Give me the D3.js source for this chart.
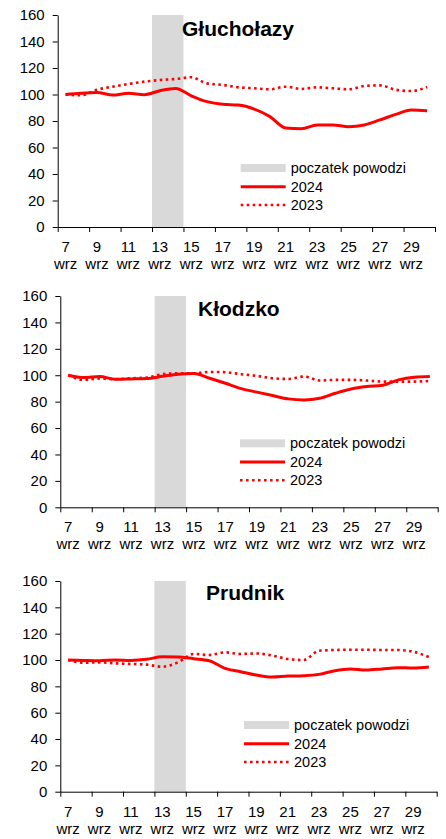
<!DOCTYPE html>
<html>
<head>
<meta charset="utf-8">
<script src="https://cdn.jsdelivr.net/npm/d3@7"></script>
<style>
  body { margin: 0; background: #fff; }
  svg { display: block; font-family: "Liberation Sans", Arial, sans-serif; }
</style>
</head>
<body>
<div id="wrapper"></div>
<script>
// days of September (wrz)
const days = [7, 8, 9, 10, 11, 12, 13, 14, 15, 16, 17, 18, 19, 20, 21, 22, 23, 24, 25, 26, 27, 28, 29, 30]
const monthLabel = "wrz"
const yTicks = [0, 20, 40, 60, 80, 100, 120, 140, 160]

// flood start band
const floodDays = [13, 14]
const floodLevel = 160

// Głuchołazy
const gl2024 = [100, 101, 101.5, 99.6, 100.9, 99.9, 102.9, 104.6, 99, 94.6, 92.6, 92, 89, 83.3, 74.7, 74.2, 77, 77, 75.7, 77, 80.8, 85, 88.3, 87.8]
const gl2023 = [100, 99.4, 103.6, 105.9, 107.9, 109.7, 110.9, 111.7, 113, 108.4, 107.2, 105.4, 104.7, 103.9, 105.9, 104.2, 105.4, 104.7, 103.9, 106.4, 106.9, 103.6, 102.6, 105.7]

// Kłodzko
const kl2024 = [100, 98.2, 99, 97, 97.2, 97.5, 99.2, 100.8, 101.3, 97.7, 93.9, 89.9, 87.2, 84.6, 82.1, 81.3, 82.6, 86.4, 89.6, 91.4, 92.4, 96.5, 98.5, 99]
const kl2023 = [100, 96.5, 97.5, 97, 97.7, 98.2, 100.8, 101.5, 101.5, 102.5, 102.3, 100.8, 99.5, 97.7, 97.2, 99, 96, 96.5, 96.5, 96, 95.2, 95.2, 95.2, 95.7]

// Prudnik
const pr2024 = [100, 99.7, 99.5, 100, 99.7, 100.5, 102.5, 102.3, 101, 99.5, 93.7, 91.1, 88.6, 87.1, 87.8, 88.1, 89.1, 91.9, 93.2, 92.4, 93.2, 94.2, 93.9, 94.7]
const pr2023 = [100, 98, 98.2, 97.5, 97, 96.5, 94.9, 98.2, 104.6, 103.8, 105.8, 104.6, 105, 103.4, 100.8, 100, 107, 107.6, 107.8, 107.8, 107.6, 107.6, 106.3, 102.3]

const legendLabels = ["poczatek powodzi", "2024", "2023"]

const dimensions = { width: 446, height: 839 }

const panels = [
  { name: "Głuchołazy", s2024: gl2024, s2023: gl2023,
    left: 57.7, right: 435, top: 15, bottom: 227, titleX: 182, titleY: 36, legX: 240.7, legY: 168 },
  { name: "Kłodzko", s2024: kl2024, s2023: kl2023,
    left: 60.3, right: 437.7, top: 296, bottom: 507.3, titleX: 198, titleY: 316, legX: 240, legY: 443.3 },
  { name: "Prudnik", s2024: pr2024, s2023: pr2023,
    left: 60.3, right: 436.7, top: 581, bottom: 791.7, titleX: 206, titleY: 600, legX: 244, legY: 725 },
]

const svg = d3.select("#wrapper")
  .append("svg")
    .attr("width", dimensions.width)
    .attr("height", dimensions.height)

const drawPanel = p => {
  const g = svg.append("g")

  const xScale = d3.scaleBand()
      .domain(days)
      .range([p.left, p.right])
      .padding(0)

  // linear index scale for the tick marks between categories
  const xIndex = d3.scaleLinear()
      .domain([0, days.length])
      .range([p.left, p.right])

  const yScale = d3.scaleLinear()
      .domain([0, 160])
      .range([p.bottom, p.top])

  const xCenter = d => xScale(d) + xScale.bandwidth() / 2

  // flood band (one rect over the flood days, no seam)
  const [fStart, fEnd] = d3.extent(floodDays)
  g.append("rect")
      .attr("x", xScale(fStart))
      .attr("width", xScale(fEnd) + xScale.bandwidth() - xScale(fStart))
      .attr("y", yScale(floodLevel))
      .attr("height", yScale(0) - yScale(floodLevel))
      .attr("fill", "#d9d9d9")

  // lines
  const lineGen = series => d3.line()
      .x((d, i) => xCenter(days[i]))
      .y(d => yScale(d))
      .curve(d3.curveMonotoneX)(series)

  g.append("path")
      .attr("d", lineGen(p.s2023))
      .attr("fill", "none")
      .attr("stroke", "#ff0000")
      .attr("stroke-width", 2.6)
      .attr("stroke-dasharray", "2.6 3.4")

  g.append("path")
      .attr("d", lineGen(p.s2024))
      .attr("fill", "none")
      .attr("stroke", "#ff0000")
      .attr("stroke-width", 3)
      .attr("stroke-linejoin", "round")

  // y axis
  const yAxis = g.append("g")
      .attr("transform", `translate(${p.left},0)`)
      .call(d3.axisLeft(yScale).tickValues(yTicks).tickSize(5).tickPadding(8).tickSizeOuter(0))
  yAxis.selectAll("text")
      .attr("font-size", 15)
      .attr("font-family", "Liberation Sans, Arial, sans-serif")
      .attr("fill", "#000")
  yAxis.selectAll("line, path").attr("stroke", "#000")

  // x axis ticks every second category boundary
  const tickIdx = d3.range(0, days.length + 1, 2)
  const xAxis = g.append("g")
      .attr("transform", `translate(0,${p.bottom})`)
      .call(d3.axisBottom(xIndex).tickValues(tickIdx).tickSize(5).tickSizeOuter(0).tickFormat(""))
  xAxis.selectAll("line, path").attr("stroke", "#000")

  // x labels, two lines
  const labelDays = days.filter((d, i) => i % 2 === 0)
  const labels = g.selectAll(".xlab")
    .data(labelDays)
    .enter()
      .append("text")
      .attr("class", "xlab")
      .attr("text-anchor", "middle")
      .attr("font-size", 15)
      .attr("fill", "#000")
  labels.append("tspan")
      .attr("x", d => xCenter(d))
      .attr("y", p.bottom + 25)
      .text(d => d)
  labels.append("tspan")
      .attr("x", d => xCenter(d))
      .attr("y", p.bottom + 42)
      .text(monthLabel)

  // title
  g.append("text")
      .attr("x", p.titleX)
      .attr("y", p.titleY)
      .attr("font-size", 21)
      .attr("font-weight", "bold")
      .attr("fill", "#000")
      .text(p.name)

  // legend
  const leg = g.append("g")
      .attr("transform", `translate(${p.legX},${p.legY})`)
  leg.append("rect")
      .attr("x", 0).attr("y", -4)
      .attr("width", 45).attr("height", 8)
      .attr("fill", "#d9d9d9")
  leg.append("line")
      .attr("x1", 0).attr("x2", 45)
      .attr("y1", 18.7).attr("y2", 18.7)
      .attr("stroke", "#ff0000").attr("stroke-width", 3)
  leg.append("line")
      .attr("x1", 0).attr("x2", 45)
      .attr("y1", 37).attr("y2", 37)
      .attr("stroke", "#ff0000").attr("stroke-width", 2.6)
      .attr("stroke-dasharray", "2.6 3.4")
  leg.selectAll(".legtext")
    .data(legendLabels)
    .enter()
      .append("text")
      .attr("class", "legtext")
      .attr("x", 50)
      .attr("y", (d, i) => [0, 18.7, 37][i])
      .attr("dy", "0.35em")
      .attr("font-size", 14.5)
      .attr("fill", "#000")
      .text(d => d)
}

panels.forEach(drawPanel)
</script>
</body>
</html>
